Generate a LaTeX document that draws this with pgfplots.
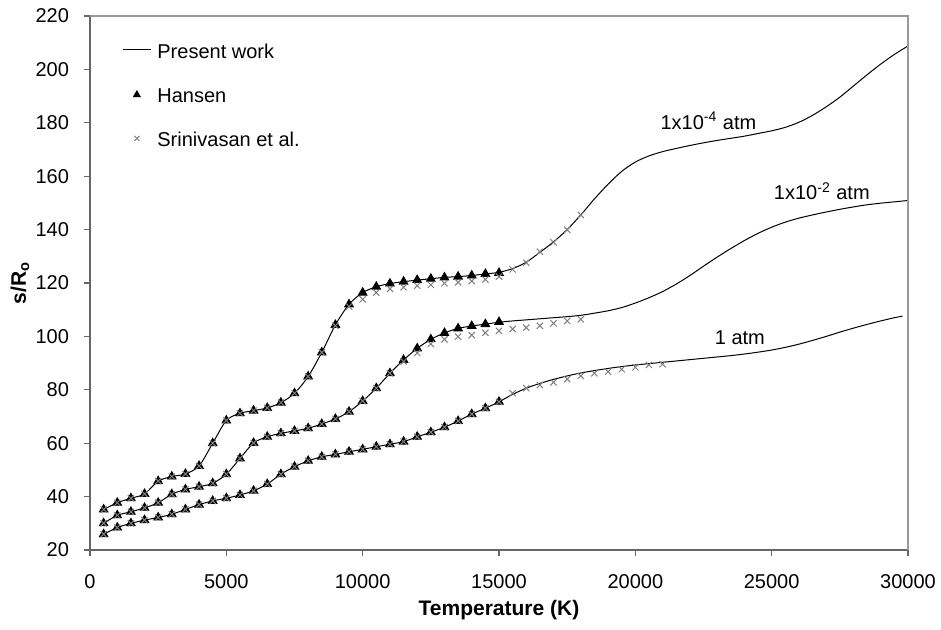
\documentclass[border=0pt]{standalone}
\usepackage{fontspec}
\setmainfont{Liberation Sans}
\usepackage{pgfplots}
\usepackage{pgfplotstable}
\pgfplotsset{compat=1.18}

% Present work: entropy s/R0 versus temperature at three pressures
\pgfplotstableread{
T s
500 35.2
1000 37.7
1500 39.4
2000 41.0
2500 45.8
3000 47.5
3500 48.5
4000 51.5
4500 60.0
5000 68.5
5500 71.2
6000 72.2
6500 73.2
7000 75.2
7500 78.7
8000 85.0
8500 94.0
9000 104.3
9500 112.0
10000 116.4
10500 118.6
11000 119.8
11500 120.5
12000 121.1
12500 121.6
13000 122.1
13500 122.4
14000 122.8
14500 123.4
15000 124.0
15500 125.4
16000 127.8
16500 131.5
17000 135.4
17500 140.0
18000 145.5
18500 151.5
19000 157.0
19500 161.8
20000 165.3
20500 167.6
21000 169.2
21500 170.4
22000 171.5
22500 172.5
23000 173.4
23500 174.2
24000 175.0
24500 176.0
25000 177.0
25500 178.3
26000 180.2
26500 182.8
27000 186.0
27500 189.6
28000 193.8
28500 198.0
29000 202.0
29500 205.6
30000 208.8
}\workA

\pgfplotstableread{
T s
500 30.0
1000 33.0
1500 34.3
2000 35.8
2500 37.7
3000 40.9
3500 42.7
4000 43.7
4500 45.0
5000 48.4
5500 54.3
6000 60.1
6500 62.4
7000 63.7
7500 64.6
8000 65.6
8500 67.2
9000 69.1
9500 71.8
10000 75.8
10500 80.6
11000 86.2
11500 91.2
12000 95.5
12500 98.9
13000 101.3
13500 103.0
14000 103.9
14500 104.6
15000 105.3
15500 105.8
16000 106.2
16500 106.6
17000 107.0
17500 107.4
18000 107.9
18500 108.7
19000 109.6
19500 110.8
20000 112.5
20500 114.5
21000 116.8
21500 119.6
22000 122.8
22500 126.3
23000 129.7
23500 132.9
24000 135.9
24500 138.6
25000 140.9
25500 142.8
26000 144.3
26500 145.5
27000 146.6
27500 147.6
28000 148.5
28500 149.3
29000 149.9
29500 150.4
30000 150.9
}\workB

\pgfplotstableread{
T s
500 25.9
1000 28.4
1500 30.0
2000 31.2
2500 32.2
3000 33.4
3500 35.2
4000 37.0
4500 38.4
5000 39.4
5500 40.6
6000 42.2
6500 44.7
7000 48.4
7500 51.2
8000 53.4
8500 54.9
9000 55.8
9500 56.8
10000 57.7
10500 58.7
11000 59.6
11500 60.6
12000 62.4
12500 64.1
13000 66.0
13500 68.3
14000 70.9
14500 73.1
15000 75.5
15500 78.3
16000 80.6
16500 82.4
17000 83.9
17500 85.2
18000 86.3
18500 87.2
19000 88.0
19500 88.7
20000 89.3
20500 89.8
21000 90.3
21500 90.8
22000 91.3
22500 91.8
23000 92.3
23500 92.8
24000 93.4
24500 94.1
25000 94.9
25500 95.9
26000 97.1
26500 98.5
27000 100.0
27500 101.6
28000 103.1
28500 104.5
29000 105.8
29500 107.0
29800 107.6
}\workC

% Hansen
\pgfplotstableread{
T s
500 35.2
1000 37.7
1500 39.4
2000 41.0
2500 45.8
3000 47.5
3500 48.5
4000 51.5
4500 60.0
5000 68.5
5500 71.2
6000 72.2
6500 73.2
7000 75.2
7500 78.7
8000 85.0
8500 94.0
9000 104.3
9500 112.0
10000 116.4
10500 118.6
11000 119.8
11500 120.5
12000 121.1
12500 121.6
13000 122.1
13500 122.4
14000 122.8
14500 123.4
15000 123.8
}\hansenA

\pgfplotstableread{
T s
500 30.0
1000 33.0
1500 34.3
2000 35.8
2500 37.7
3000 40.9
3500 42.7
4000 43.7
4500 45.0
5000 48.4
5500 54.3
6000 60.1
6500 62.4
7000 63.7
7500 64.6
8000 65.6
8500 67.2
9000 69.1
9500 71.8
10000 75.8
10500 80.6
11000 86.2
11500 91.2
12000 95.5
12500 98.9
13000 101.3
13500 103.0
14000 103.9
14500 104.6
15000 105.4
}\hansenB

\pgfplotstableread{
T s
500 25.9
1000 28.4
1500 30.0
2000 31.2
2500 32.2
3000 33.4
3500 35.2
4000 37.0
4500 38.4
5000 39.4
5500 40.6
6000 42.2
6500 44.7
7000 48.4
7500 51.2
8000 53.4
8500 54.9
9000 55.8
9500 56.8
10000 57.7
10500 58.7
11000 59.6
11500 60.6
12000 62.4
12500 64.1
13000 66.0
13500 68.3
14000 70.9
14500 73.1
15000 75.5
}\hansenC

% Srinivasan et al.
\pgfplotstableread{
T s
500 35.2
1000 37.7
1500 39.4
2000 41.0
2500 45.8
3000 47.5
3500 48.5
4000 51.5
4500 60.0
5000 68.5
5500 71.2
6000 72.2
6500 73.2
7000 75.2
7500 78.7
8000 85.0
8500 94.0
9000 104.0
9500 111.2
10000 113.9
10500 116.4
11000 117.8
11500 118.4
12000 119.0
12500 119.3
13000 119.9
13500 120.3
14000 120.7
14500 121.3
15000 122.4
15500 125.1
16000 127.6
16500 131.7
17000 135.2
17500 139.9
18000 145.5
}\srinA

\pgfplotstableread{
T s
500 30.0
1000 33.0
1500 34.3
2000 35.8
2500 37.7
3000 40.9
3500 42.7
4000 43.7
4500 45.0
5000 48.4
5500 54.3
6000 60.1
6500 62.4
7000 63.7
7500 64.6
8000 65.6
8500 67.2
9000 69.1
9500 71.8
10000 75.8
10500 80.6
11000 86.2
11500 90.6
12000 93.8
12500 97.2
13000 98.9
13500 99.9
14000 100.5
14500 101.4
15000 102.1
15500 102.8
16000 103.3
16500 104.0
17000 104.9
17500 105.8
18000 106.4
}\srinB

\pgfplotstableread{
T s
500 25.9
1000 28.4
1500 30.0
2000 31.2
2500 32.2
3000 33.4
3500 35.2
4000 37.0
4500 38.4
5000 39.4
5500 40.6
6000 42.2
6500 44.7
7000 48.4
7500 51.2
8000 53.4
8500 54.9
9000 55.8
9500 56.8
10000 57.7
10500 58.7
11000 59.6
11500 60.6
12000 62.4
12500 64.1
13000 66.0
13500 68.3
14000 70.9
14500 73.1
15000 75.5
15500 78.7
16000 80.6
16500 81.8
17000 82.8
17500 84.0
18000 85.2
18500 86.2
19000 86.8
19500 87.7
20000 88.4
20500 89.3
21000 89.6
}\srinC

\definecolor{axisgray}{gray}{0.4}
\definecolor{framegray}{gray}{0.6}
\definecolor{crossgray}{gray}{0.5}

\begin{document}
\begin{tikzpicture}
\useasboundingbox (0,0) rectangle (470.5pt,314.5pt);
\begin{axis}[
  name=ax,
  at={(45pt,39.5pt)}, anchor=south west,
  width=409pt, height=267pt, scale only axis,
  xmin=0, xmax=30000, ymin=20, ymax=220,
  xtick={0,5000,...,30000},
  ytick={20,40,...,220},
  scaled x ticks=false,
  /pgf/number format/1000 sep={},
  /pgf/number format/assume math mode=true,
  axis x line*=bottom, axis y line*=left,
  axis line style={-, axisgray, line width=0.6pt},
  tick align=outside, major tick length=3pt,
  tick style={axisgray, line width=0.6pt},
  ticklabel style={font=\fontsize{10}{12}\selectfont},
  xticklabel style={anchor=center, yshift=-13pt},
  yticklabel style={anchor=east, xshift=-4pt},
  every axis x label/.style={at={(axis description cs:0.5,0)}, anchor=center, yshift=-30pt, font=\fontsize{10.5}{12}\selectfont\bfseries},
  every axis y label/.style={at={(axis description cs:0,0.5)}, xshift=-35pt, anchor=center, rotate=90, font=\fontsize{10.5}{12}\selectfont\bfseries},
  xlabel={Temperature (K)},
  ylabel={s/R\textsubscript{o}},
  legend cell align=left,
  legend style={draw=none, fill=none, inner sep=0pt,
    at={(axis description cs:0,1)}, anchor=north west,
    xshift=16pt, yshift=-13.6pt, row sep=12pt,
    font=\fontsize{10}{12}\selectfont,
    nodes={inner sep=0pt, text height=7.5pt, text depth=2.5pt}},
  line plot/.style={black, line width=0.5pt, smooth, no marks,
    legend image code/.code={\draw[##1] (0pt,2.1pt) -- (14pt,2.1pt); \path (0pt,0pt) (17pt,0pt);}},
  hansen/.style={only marks, mark=triangle*, mark size=2.5pt, mark options={black, fill=black},
    legend image code/.code={\draw[##1, mark size=2pt] plot coordinates {(7pt,1.4pt)}; \path (0pt,0pt) (17pt,0pt);}},
  srin/.style={only marks, mark=x, mark size=2.2pt, mark options={crossgray, line width=0.5pt},
    legend image code/.code={\draw[##1, mark size=1.8pt] plot coordinates {(7pt,1.6pt)}; \path (0pt,0pt) (17pt,0pt);}},
]
\addplot[line plot] table[x=T, y=s] {\workA};
\addlegendentry{Present work}
\addplot[hansen] table[x=T, y=s] {\hansenA};
\addlegendentry{Hansen}
\addplot[srin] table[x=T, y=s] {\srinA};
\addlegendentry{Srinivasan et al.}

\addplot[line plot, forget plot] table[x=T, y=s] {\workB};
\addplot[line plot, forget plot] table[x=T, y=s] {\workC};
\addplot[hansen, forget plot] table[x=T, y=s] {\hansenB};
\addplot[hansen, forget plot] table[x=T, y=s] {\hansenC};
\addplot[srin, forget plot] table[x=T, y=s] {\srinB};
\addplot[srin, forget plot] table[x=T, y=s] {\srinC};

\node[anchor=base, font=\fontsize{10}{12}\selectfont] at (axis cs:22680,177.6) {1x10\textsuperscript{-4} atm};
\node[anchor=base, font=\fontsize{10}{12}\selectfont] at (axis cs:26840,151.1) {1x10\textsuperscript{-2} atm};
\node[anchor=base, font=\fontsize{10}{12}\selectfont] at (axis cs:23835,96.8) {1 atm};
\end{axis}
\draw[framegray, line width=0.6pt] (ax.north west) -- (ax.north east) -- (ax.south east);
\end{tikzpicture}
\end{document}
